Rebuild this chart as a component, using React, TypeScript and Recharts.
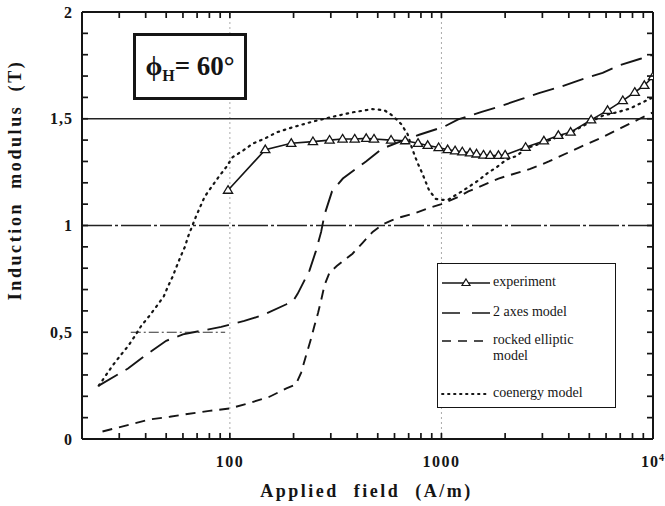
import React from 'react';
import { LineChart, Line, XAxis, YAxis, ReferenceLine, Legend } from 'recharts';

// ---------- data ----------
const expField = [98, 147, 195, 247, 296, 341, 389, 441, 480, 578, 674, 775, 861, 970, 1070, 1160, 1255, 1365, 1465, 1580, 1700, 1860, 2000, 2500, 3050, 3570, 4080, 5100, 6100, 7200, 8200, 9100, 10000];
const expB = [1.165, 1.355, 1.385, 1.393, 1.4, 1.405, 1.405, 1.408, 1.405, 1.4, 1.397, 1.385, 1.375, 1.365, 1.355, 1.35, 1.345, 1.34, 1.335, 1.33, 1.328, 1.328, 1.33, 1.366, 1.396, 1.422, 1.437, 1.495, 1.539, 1.585, 1.624, 1.656, 1.697];

const axesField = [24, 33, 39, 50, 60, 76, 91, 117, 143, 184, 200, 209, 238, 255, 270, 280, 304, 342, 440, 524, 630, 785, 1030, 1200, 1550, 1860, 2400, 2890, 3660, 4470, 5780, 6930, 8650, 10000];
const axesB = [0.25, 0.33, 0.385, 0.46, 0.49, 0.51, 0.525, 0.553, 0.58, 0.63, 0.65, 0.68, 0.79, 0.88, 0.97, 1.05, 1.16, 1.22, 1.3, 1.36, 1.39, 1.425, 1.463, 1.497, 1.532, 1.556, 1.593, 1.62, 1.65, 1.68, 1.715, 1.75, 1.78, 1.8];

const rockField = [25, 34, 42, 52, 63, 80, 100, 125, 154, 185, 205, 217, 229, 242, 251, 261, 270, 280, 296, 320, 349, 380, 425, 473, 528, 578, 646, 745, 893, 1000, 1180, 1340, 1500, 1860, 2630, 3220, 4470, 5680, 7070, 8650, 10000];
const rockB = [0.035, 0.069, 0.092, 0.104, 0.117, 0.132, 0.143, 0.17, 0.198, 0.237, 0.255, 0.31, 0.39, 0.47, 0.53, 0.59, 0.65, 0.72, 0.78, 0.81, 0.84, 0.868, 0.92, 0.97, 1.005, 1.023, 1.04, 1.057, 1.085, 1.1, 1.13, 1.16, 1.18, 1.22, 1.265, 1.3, 1.365, 1.41, 1.457, 1.5, 1.53];

const coField = [24, 26, 28, 30.5, 33, 35.5, 38, 41.5, 45, 48.7, 51, 53.5, 56, 58.5, 61.3, 63.5, 69, 76, 88, 96, 103, 115, 128, 146, 166, 198, 245, 305, 380, 472, 537, 589, 645, 692, 728, 769, 812, 875, 940, 1000, 1076, 1250, 1500, 1640, 1830, 2040, 2260, 2500, 3050, 3570, 4080, 5100, 5800, 6810, 7740, 8650, 9640, 10000];
const coB = [0.25, 0.3, 0.346, 0.393, 0.435, 0.481, 0.528, 0.575, 0.621, 0.668, 0.715, 0.758, 0.808, 0.855, 0.9, 0.949, 1.04, 1.135, 1.224, 1.273, 1.32, 1.35, 1.383, 1.407, 1.436, 1.46, 1.486, 1.509, 1.53, 1.545, 1.54, 1.514, 1.475, 1.428, 1.358, 1.296, 1.244, 1.164, 1.125, 1.12, 1.121, 1.16, 1.212, 1.243, 1.274, 1.31, 1.325, 1.36, 1.39, 1.415, 1.435, 1.487, 1.515, 1.531, 1.547, 1.57, 1.593, 1.6];

const xMajor = [100, 1000, 10000];
const xTicksAll = [30, 40, 50, 60, 70, 80, 90, 100, 200, 300, 400, 500, 600, 700, 800, 900, 1000, 2000, 3000, 4000, 5000, 6000, 7000, 8000, 9000, 10000];
const yMajor = [0, 0.5, 1, 1.5, 2];
const yTicksAll = [0, 0.1, 0.2, 0.3, 0.4, 0.5, 0.6, 0.7, 0.8, 0.9, 1, 1.1, 1.2, 1.3, 1.4, 1.5, 1.6, 1.7, 1.8, 1.9, 2];

const seriesNames = ['experiment', '2 axes model', 'rocked elliptic model', 'coenergy model'];

const mk = (xs: number[], ys: number[]) => xs.map((x, i) => ({ x, y: ys[i] }));
const expData = mk(expField, expB);
const axesData = mk(axesField, axesB);
const rockData = mk(rockField, rockB);
const coData = mk(coField, coB);

const X_MIN = 20;
const X_MAX = 10000;
const Y_MIN = 0;
const Y_MAX = 2;

const INK = '#151515';
const SERIF = '"Liberation Serif", "Times New Roman", serif';

const DASH_AXES = '22 9';
const DASH_ROCK = '10 7';
const DASH_CO = '1.5 5';

const Y_AXIS_W = 60;
const X_AXIS_H = 30;
const X_TICK_MARGIN = 17;
const Y_TICK_MARGIN = 9;
const TICK_LEN = 6;
const TICK_W = 1.7;

const isMajorY = (v: number) => yMajor.some((m) => Math.abs(m - v) < 1e-9);

const TriDot = (p: any) => {
  const { cx, cy } = p;
  if (cx == null || cy == null) return <g />;
  return (
    <path
      d={`M${cx},${cy - 4.6} L${cx + 4.6},${cy + 3} L${cx - 4.6},${cy + 3} Z`}
      fill="#fff"
      stroke={INK}
      strokeWidth={1.3}
    />
  );
};

// left axis: inner tick mark + label for the major values
const YTick = (props: any) => {
  const { x, y, payload } = props;
  const v = payload.value;
  const ax = x + Y_TICK_MARGIN;
  return (
    <g>
      <path d={`M${ax},${y}H${ax + TICK_LEN}`} stroke={INK} strokeWidth={TICK_W} fill="none" />
      {isMajorY(v) ? (
        <text x={x} y={y} dy="0.35em" textAnchor="end" fontFamily={SERIF} fontWeight="bold" fontSize={16} letterSpacing={1} fill={INK}>
          {String(v).replace('.', ',')}
        </text>
      ) : null}
    </g>
  );
};

// bottom axis: inner tick mark + label for the decades
const XTick = (props: any) => {
  const { x, y, payload } = props;
  const v = payload.value;
  const ay = y - X_TICK_MARGIN;
  let label: React.ReactNode = null;
  if (v === 10000) {
    label = (
      <text x={x} y={y} dy="0.71em" textAnchor="middle" fontFamily={SERIF} fontWeight="bold" fontSize={16} letterSpacing={1} fill={INK}>
        10<tspan dy={-6} fontSize={10}>4</tspan>
      </text>
    );
  } else if (xMajor.includes(v)) {
    label = (
      <text x={x} y={y} dy="0.71em" textAnchor="middle" fontFamily={SERIF} fontWeight="bold" fontSize={16} letterSpacing={1.5} fill={INK}>
        {v}
      </text>
    );
  }
  return (
    <g>
      <path d={`M${x},${ay}V${ay - TICK_LEN}`} stroke={INK} strokeWidth={TICK_W} fill="none" />
      {label}
    </g>
  );
};

const TopTick = (props: any) => {
  const { x, y } = props;
  return <path d={`M${x},${y}V${y + TICK_LEN}`} stroke={INK} strokeWidth={TICK_W} fill="none" />;
};

const RightTick = (props: any) => {
  const { x, y } = props;
  return <path d={`M${x - TICK_LEN},${y}H${x}`} stroke={INK} strokeWidth={TICK_W} fill="none" />;
};

const XLabel = (props: any) => {
  const vb = props.viewBox || { x: 82, y: 439, width: 571 };
  return (
    <text
      x={vb.x + vb.width / 2 - 1}
      y={vb.y + 58}
      textAnchor="middle"
      fontFamily={SERIF}
      fontWeight="bold"
      fontSize={18}
      letterSpacing={2.5}
      wordSpacing={8}
      fill={INK}
    >
      Applied field (A/m)
    </text>
  );
};

const YLabel = (props: any) => {
  const vb = props.viewBox || { x: 22, y: 12, width: 60, height: 427 };
  const cx = vb.x + vb.width - 67;
  const cy = vb.y + 168;
  return (
    <text
      x={cx}
      y={cy}
      transform={`rotate(-90 ${cx} ${cy})`}
      textAnchor="middle"
      dominantBaseline="central"
      fontFamily={SERIF}
      fontWeight="bold"
      fontSize={18}
      letterSpacing={2.6}
      wordSpacing={6}
      fill={INK}
    >
      Induction modulus (T)
    </text>
  );
};

const legendRows = [
  { name: seriesNames[0], dash: undefined as string | undefined, tri: true, top: 10, lines: ['experiment'] },
  { name: seriesNames[1], dash: DASH_AXES, tri: false, top: 40, lines: ['2 axes model'] },
  { name: seriesNames[2], dash: DASH_ROCK, tri: false, top: 68, lines: ['rocked elliptic', 'model'] },
  { name: seriesNames[3], dash: DASH_CO, tri: false, top: 121, lines: ['coenergy model'] },
];

const LegendBox = () => (
  <div
    style={{
      position: 'relative',
      width: 179,
      height: 145,
      boxSizing: 'border-box',
      border: `1.5px solid ${INK}`,
      background: '#fff',
      fontFamily: SERIF,
      fontSize: 14,
      color: INK,
    }}
  >
    {legendRows.map((r) => (
      <div key={r.name} style={{ position: 'absolute', left: 0, top: r.top, width: 179 }}>
        <svg width={54} height={18} style={{ position: 'absolute', left: 2, top: 0 }}>
          <line
            x1={2}
            y1={9}
            x2={50}
            y2={9}
            stroke={INK}
            strokeWidth={r.dash === DASH_CO ? 1.8 : 1.6}
            strokeDasharray={r.dash === DASH_AXES ? '18 12' : r.dash === DASH_ROCK ? '9 7' : r.dash === DASH_CO ? '1.5 4.5' : undefined}
            strokeLinecap={r.dash === DASH_CO ? 'round' : 'butt'}
          />
          {r.tri ? <path d="M26,5 L30,11.5 L22,11.5 Z" fill="#fff" stroke={INK} strokeWidth={1.2} /> : null}
        </svg>
        <div style={{ position: 'absolute', left: 55, top: 0, lineHeight: '16px' }}>
          {r.lines.map((t) => (
            <div key={t}>{t}</div>
          ))}
        </div>
      </div>
    ))}
  </div>
);

export default function App() {
  return (
    <div style={{ position: 'absolute', left: 0, top: 0, width: 665, height: 506, background: '#fff' }}>
      <LineChart width={665} height={506} margin={{ top: 11, right: 11, bottom: 67 - X_AXIS_H, left: 82 - Y_AXIS_W }}>
        <XAxis
          xAxisId="x"
          dataKey="x"
          type="number"
          scale="log"
          domain={[X_MIN, X_MAX]}
          allowDataOverflow
          ticks={xTicksAll}
          interval={0}
          height={X_AXIS_H}
          tickSize={0}
          tickMargin={X_TICK_MARGIN}
          tickLine={false}
          tick={<XTick />}
          axisLine={{ stroke: INK, strokeWidth: 2 }}
          label={<XLabel />}
        />
        <XAxis
          xAxisId="xt"
          dataKey="x"
          type="number"
          scale="log"
          domain={[X_MIN, X_MAX]}
          allowDataOverflow
          orientation="top"
          ticks={xTicksAll}
          interval={0}
          height={1}
          tickSize={0}
          tickMargin={0}
          tickLine={false}
          tick={<TopTick />}
          axisLine={false}
        />
        <YAxis
          yAxisId="y"
          type="number"
          domain={[Y_MIN, Y_MAX]}
          allowDataOverflow
          ticks={yTicksAll}
          interval={0}
          width={Y_AXIS_W}
          tickSize={0}
          tickMargin={Y_TICK_MARGIN}
          tickLine={false}
          tick={<YTick />}
          axisLine={{ stroke: INK, strokeWidth: 2 }}
          label={<YLabel />}
        />
        <YAxis
          yAxisId="yr"
          type="number"
          domain={[Y_MIN, Y_MAX]}
          allowDataOverflow
          orientation="right"
          ticks={yTicksAll}
          interval={0}
          width={1}
          tickSize={0}
          tickMargin={0}
          tickLine={false}
          tick={<RightTick />}
          axisLine={false}
        />

        {/* frame: top and right sides */}
        <ReferenceLine xAxisId="x" yAxisId="y" y={Y_MAX} stroke={INK} strokeWidth={2} ifOverflow="visible" />
        <ReferenceLine xAxisId="x" yAxisId="y" x={X_MAX} stroke={INK} strokeWidth={2} ifOverflow="visible" />

        <ReferenceLine xAxisId="x" yAxisId="y" x={100} stroke="#aaa" strokeWidth={1} strokeDasharray="2 3" />
        <ReferenceLine xAxisId="x" yAxisId="y" x={1000} stroke="#aaa" strokeWidth={1} strokeDasharray="2 3" />
        <ReferenceLine xAxisId="x" yAxisId="y" y={1.5} stroke="#222" strokeWidth={1.6} />
        <ReferenceLine xAxisId="x" yAxisId="y" y={1} stroke="#222" strokeWidth={1.6} strokeDasharray="30 3 3 3" />
        <ReferenceLine
          xAxisId="x"
          yAxisId="y"
          segment={[{ x: 34, y: 0.5 }, { x: 95, y: 0.5 }]}
          stroke="#333"
          strokeWidth={1.2}
          strokeDasharray="10 3 2 3"
        />

        <Line xAxisId="x" yAxisId="y" data={rockData} dataKey="y" name={seriesNames[2]} type="linear" stroke={INK} strokeWidth={1.9} strokeDasharray={DASH_ROCK} dot={false} isAnimationActive={false} />
        <Line xAxisId="x" yAxisId="y" data={axesData} dataKey="y" name={seriesNames[1]} type="linear" stroke={INK} strokeWidth={1.9} strokeDasharray={DASH_AXES} dot={false} isAnimationActive={false} />
        <Line xAxisId="x" yAxisId="y" data={coData} dataKey="y" name={seriesNames[3]} type="linear" stroke={INK} strokeWidth={2.2} strokeDasharray={DASH_CO} strokeLinecap="round" dot={false} isAnimationActive={false} />
        <Line xAxisId="x" yAxisId="y" data={expData} dataKey="y" name={seriesNames[0]} type="linear" stroke={INK} strokeWidth={1.6} dot={<TriDot />} isAnimationActive={false} />

        <Legend
          layout="vertical"
          align="center"
          verticalAlign="middle"
          content={<LegendBox />}
          wrapperStyle={{ left: 437, top: 263, width: 179, height: 145 }}
        />
      </LineChart>

      <div
        style={{
          position: 'absolute',
          left: 133,
          top: 33,
          width: 114,
          height: 67,
          boxSizing: 'border-box',
          border: `3px solid ${INK}`,
          background: '#fff',
          fontFamily: SERIF,
          fontWeight: 'bold',
          color: INK,
          display: 'flex',
          alignItems: 'center',
          justifyContent: 'center',
          whiteSpace: 'nowrap',
        }}
      >
        <span style={{ fontSize: 27 }}>ϕ</span>
        <span style={{ fontSize: 16, position: 'relative', top: 9 }}>H</span>
        <span style={{ fontSize: 27 }}>= 60°</span>
      </div>
    </div>
  );
}
